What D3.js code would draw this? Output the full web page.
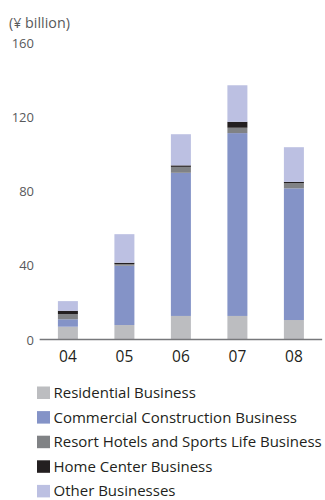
<!DOCTYPE html>
<html>
<head>
<meta charset="utf-8">
<script src="https://cdn.jsdelivr.net/npm/d3@7"></script>
<style>
  html, body { margin: 0; padding: 0; background: #fff; }
  svg { display: block; font-family: "Open Sans", "Noto Sans", sans-serif; }
</style>
</head>
<body>
<svg id="chart" width="325" height="500"></svg>
<script>
// Fiscal years (category axis)
const years = ["04", "05", "06", "07", "08"];

// Segment values, ¥ billion
const residential = [6.9, 7.8, 12.7, 12.7, 10.5];
const commercial  = [4.0, 32.0, 77.2, 98.6, 71.0];
const resort      = [2.8, 0.9, 3.2, 2.9, 2.8];
const homeCenter  = [1.8, 0.7, 0.8, 3.2, 0.7];
const other       = [5.2, 15.4, 16.8, 19.7, 18.7];

const seriesNames = [
  "Residential Business",
  "Commercial Construction Business",
  "Resort Hotels and Sports Life Business",
  "Home Center Business",
  "Other Businesses"
];
const seriesKeys = ["residential", "commercial", "resort", "homeCenter", "other"];
const colors = ["#bcbdc0", "#8493c7", "#808285", "#231f20", "#bcc0e2"];

const yTicks = [0, 40, 80, 120, 160];
const unitLabel = "(¥ billion)";

// Build rows for the stack layout
const rows = years.map((y, i) => ({
  year: y,
  residential: residential[i],
  commercial: commercial[i],
  resort: resort[i],
  homeCenter: homeCenter[i],
  other: other[i]
}));

const svg = d3.select("#chart");

const x = d3.scaleBand()
  .domain(years)
  .range([39.65, 322.15])
  .paddingInner(0.646)
  .paddingOuter(0.323);

const y = d3.scaleLinear()
  .domain([0, 160])
  .range([339.5, 42.8]);

const color = d3.scaleOrdinal().domain(seriesKeys).range(colors);

const stacked = d3.stack().keys(seriesKeys)(rows);

// Stacked bars
svg.append("g")
  .selectAll("g")
  .data(stacked)
  .join("g")
  .attr("fill", d => color(d.key))
  .selectAll("rect")
  .data(d => d)
  .join("rect")
  .attr("x", d => x(d.data.year))
  .attr("width", x.bandwidth())
  .attr("y", d => y(d[1]))
  .attr("height", d => y(d[0]) - y(d[1]));

// Baseline
svg.append("line")
  .attr("x1", x.range()[0])
  .attr("x2", x.range()[1])
  .attr("y1", y(0))
  .attr("y2", y(0))
  .attr("stroke", "#77787b")
  .attr("stroke-width", 1.3);

// Y tick labels
svg.append("g")
  .selectAll("text")
  .data(yTicks)
  .join("text")
  .attr("x", 34)
  .attr("y", d => y(d) + 5)
  .attr("text-anchor", "end")
  .attr("font-size", 13)
  .attr("fill", "#58595b")
  .text(d => d);

// Unit label
svg.append("text")
  .attr("x", 9)
  .attr("y", 27.5)
  .attr("font-size", 14.3)
  .attr("fill", "#58595b")
  .text(unitLabel);

// X category labels
svg.append("g")
  .selectAll("text")
  .data(years)
  .join("text")
  .attr("x", d => x(d) + x.bandwidth() / 2)
  .attr("y", 361.5)
  .attr("text-anchor", "middle")
  .attr("font-size", 15.5)
  .attr("fill", "#231f20")
  .text(d => d);

// Legend
const legend = svg.append("g")
  .selectAll("g")
  .data(seriesKeys)
  .join("g")
  .attr("transform", (d, i) => `translate(37, ${386.5 + i * 24.6})`);

legend.append("rect")
  .attr("width", 13)
  .attr("height", 12.5)
  .attr("fill", d => color(d));

legend.append("text")
  .attr("x", 16.5)
  .attr("y", 11.5)
  .attr("font-size", 15)
  .attr("fill", "#231f20")
  .text((d, i) => seriesNames[i]);
</script>
</body>
</html>
